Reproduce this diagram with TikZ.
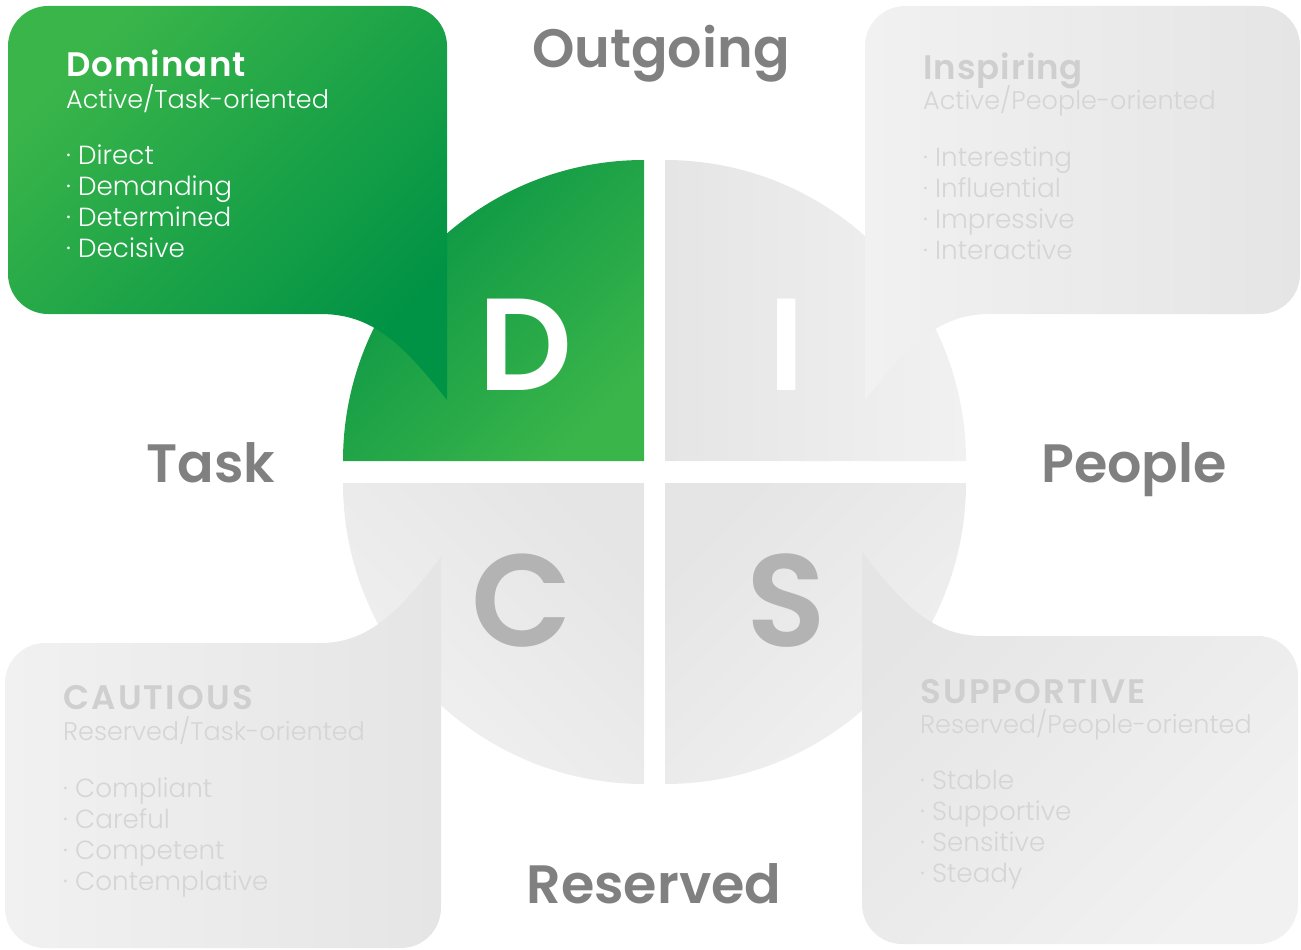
\documentclass[tikz,border=0pt]{standalone}
\usepackage{fontspec}
\setmainfont{Poppins}
\newfontfamily\plight{Poppins Light}
\newfontfamily\pbold{Poppins SemiBold}
\definecolor{glight}{HTML}{3AB54A}
\definecolor{gdark}{HTML}{009245}
\definecolor{gdarkq}{HTML}{079445}
\definecolor{headgray}{HTML}{808080}
\definecolor{ttlgray}{HTML}{CFCFCF}
\definecolor{txtgray}{HTML}{D5D5D5}
\definecolor{lettgray}{HTML}{B3B3B3}
\definecolor{qdark}{HTML}{E5E5E5}
\definecolor{qlight}{HTML}{F1F1F1}
\tikzset{
  heading/.style={font=\pbold\fontsize{54}{54}\selectfont, text=headgray, inner sep=0, anchor=base},
  bigletter/.style={font=\pbold\fontsize{131}{131}\selectfont, inner sep=0, anchor=base},
  boxtitle/.style={font=\pbold\fontsize{34}{34}\selectfont\addfontfeatures{LetterSpace=3}, inner sep=0, anchor=base west},
  capstitle/.style={font=\pbold\fontsize{34}{34}\selectfont\addfontfeatures{LetterSpace=6.5}, inner sep=0, anchor=base west},
  boxsub/.style={font=\plight\fontsize{25.5}{25.5}\selectfont, inner sep=0, anchor=base west},
  boxtext/.style={font=\plight\fontsize{26.2}{26.2}\selectfont, inner sep=0, anchor=base west},
}
\begin{document}
\begin{tikzpicture}[x=1pt,y=-1pt]
\useasboundingbox (0,0) rectangle (1301,950);
% quadrants
\shade[top color=gdarkq, bottom color=glight, shading angle=45]
  (644,461) -- (343,461) arc[start angle=180, end angle=270, radius=301] -- cycle;
\shade[left color=qdark, right color=qlight]
  (665,461) -- (665,160) arc[start angle=270, end angle=360, radius=301] -- cycle;
\shade[top color=qdark, bottom color=qlight, shading angle=-45]
  (644,483) -- (343,483) arc[start angle=180, end angle=90, radius=301] -- cycle;
\shade[top color=qdark, bottom color=qlight, shading angle=45]
  (665,483) -- (966,483) arc[start angle=0, end angle=90, radius=301] -- cycle;
% boxes
\shade[top color=glight, bottom color=gdark, shading angle=45]
  (447,400) .. controls (400,340) and (370,314) .. (320,314) -- (48,314)
  .. controls (26,314) and (8,296) .. (8,274) -- (8,46)
  .. controls (8,24) and (26,6) .. (48,6) -- (407,6)
  .. controls (429,6) and (447,24) .. (447,46) -- cycle;
\shade[left color=qlight, right color=qdark]
  (865,400) .. controls (912,340) and (942,314) .. (990,314) -- (1260,314)
  .. controls (1282,314) and (1300,296) .. (1300,274) -- (1300,46)
  .. controls (1300,24) and (1282,6) .. (1260,6) -- (905,6)
  .. controls (883,6) and (865,24) .. (865,46) -- cycle;
\shade[left color=qlight, right color=qdark]
  (441,557) .. controls (400,610) and (370,643) .. (320,643) -- (45,643)
  .. controls (23,643) and (5,661) .. (5,683) -- (5,908)
  .. controls (5,930) and (23,948) .. (45,948) -- (401,948)
  .. controls (423,948) and (441,930) .. (441,908) -- cycle;
\shade[top color=qdark, bottom color=qlight, shading angle=45]
  (862,552) .. controls (903,605) and (933,636) .. (983,636) -- (1258,636)
  .. controls (1280,636) and (1298,654) .. (1298,676) -- (1298,904)
  .. controls (1298,926) and (1280,944) .. (1258,944) -- (902,944)
  .. controls (880,944) and (862,926) .. (862,904) -- cycle;
% letters
\node[bigletter, text=white] (lD) at (525,390) {D};
\node[bigletter, text=white] (lI) at (787,390) {I};
\node[bigletter, text=lettgray] (lC) at (522,646) {C};
\node[bigletter, text=lettgray] (lS) at (786,646) {S};
% axis headings
\node[heading] (hOut) at (661,67) {Outgoing};
\node[heading] (hRes) at (654,903) {Reserved};
\node[heading] (hTask) at (211,482) {Task};
\node[heading] (hPeople) at (1134,482) {People};
% Dominant
\node[boxtitle, text=white] (dT) at (66,77) {Dominant};
\node[boxsub, text=white] (dS) at (66,108) {Active/Task-oriented};
\node[boxtext, text=white] (d1) at (66,164) {· Direct};
\node[boxtext, text=white] (d2) at (66,195) {· Demanding};
\node[boxtext, text=white] (d3) at (66,226) {· Determined};
\node[boxtext, text=white] (d4) at (66,257) {· Decisive};
% Inspiring
\node[boxtitle, text=ttlgray] (iT) at (923,79) {Inspiring};
\node[boxsub, text=txtgray] (iS) at (923,109) {Active/People-oriented};
\node[boxtext, text=txtgray] (i1) at (923,166) {· Interesting};
\node[boxtext, text=txtgray] (i2) at (923,197) {· Influential};
\node[boxtext, text=txtgray] (i3) at (923,228) {· Impressive};
\node[boxtext, text=txtgray] (i4) at (923,259) {· Interactive};
% Cautious
\node[capstitle, text=ttlgray] (cT) at (63,709) {CAUTIOUS};
\node[boxsub, text=txtgray] (cS) at (63,740) {Reserved/Task-oriented};
\node[boxtext, text=txtgray] (c1) at (63,797) {· Compliant};
\node[boxtext, text=txtgray] (c2) at (63,828) {· Careful};
\node[boxtext, text=txtgray] (c3) at (63,859) {· Competent};
\node[boxtext, text=txtgray] (c4) at (63,890) {· Contemplative};
% Supportive
\node[capstitle, text=ttlgray] (sT) at (920,703) {SUPPORTIVE};
\node[boxsub, text=txtgray] (sS) at (920,733) {Reserved/People-oriented};
\node[boxtext, text=txtgray] (s1) at (920,789) {· Stable};
\node[boxtext, text=txtgray] (s2) at (920,820) {· Supportive};
\node[boxtext, text=txtgray] (s3) at (920,851) {· Sensitive};
\node[boxtext, text=txtgray] (s4) at (920,882) {· Steady};
\end{tikzpicture}
\end{document}
